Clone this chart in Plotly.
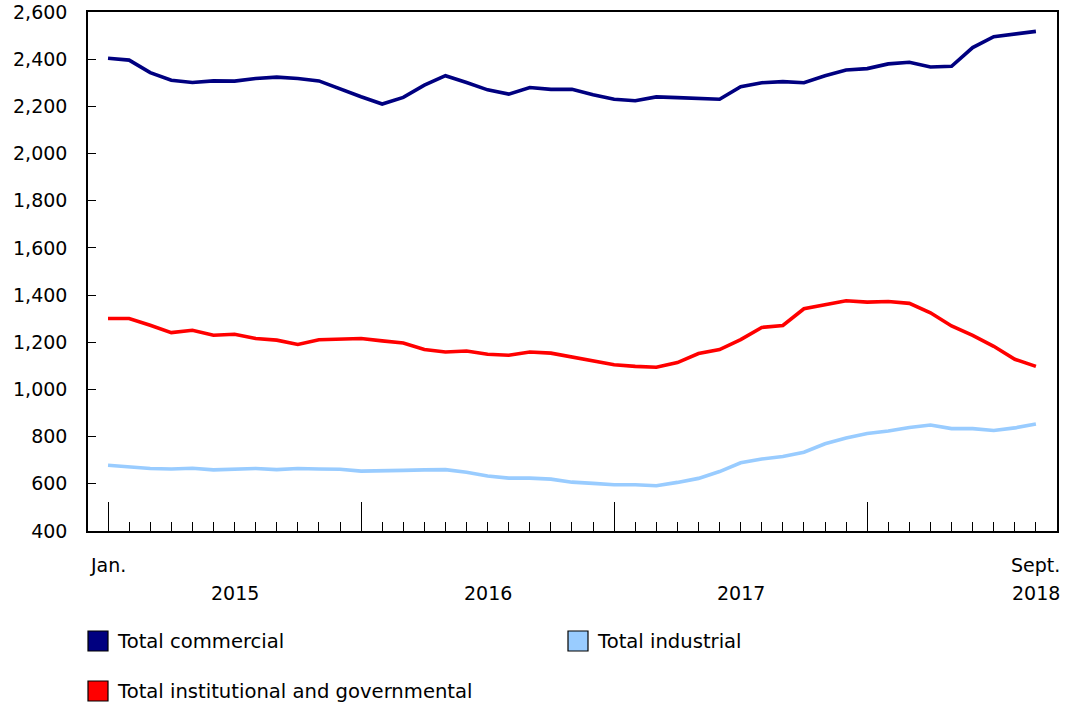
import plotly.graph_objects as go

# ---- data (monthly, Jan. 2015 to Sept. 2018) ----
series_names = ["Total commercial", "Total industrial", "Total institutional and governmental"]
series_colors = ["#000080", "#99CCFF", "#FF0000"]

commercial = [2404, 2396, 2343, 2311, 2301, 2308, 2307, 2318, 2324, 2318, 2308, 2273, 2241, 2210, 2238,
              2290, 2330, 2301, 2270, 2252, 2280, 2272, 2272, 2249, 2230, 2224, 2240, 2237, 2235, 2230,
              2283, 2300, 2305, 2300, 2330, 2354, 2360, 2380, 2387, 2367, 2370, 2449, 2495, 2507, 2518]
industrial = [679, 672, 665, 663, 666, 659, 662, 665, 660, 665, 663, 662, 654, 654, 657,
              659, 660, 649, 633, 624, 624, 620, 607, 602, 596, 596, 592, 606, 623, 652,
              689, 705, 716, 734, 770, 794, 813, 824, 839, 849, 834, 834, 826, 837, 854]
institutional = [1301, 1301, 1272, 1241, 1251, 1230, 1234, 1216, 1209, 1191, 1211, 1214, 1216, 1206, 1197,
                 1169, 1159, 1163, 1149, 1145, 1159, 1154, 1137, 1119, 1105, 1098, 1094, 1114, 1152, 1169,
                 1211, 1263, 1271, 1342, 1359, 1376, 1370, 1373, 1365, 1325, 1269, 1229, 1183, 1128, 1098]

years = ["2015", "2016", "2017", "2018"]
month_tick_labels = ["Jan.", "Sept."]
y_ticks = [400, 600, 800, 1000, 1200, 1400, 1600, 1800, 2000, 2200, 2400, 2600]

n = len(commercial)
x = list(range(n))  # month index, 0 = Jan. 2015

FONT = "Verdana, DejaVu Sans, sans-serif"
FS = 19

# plot area in pixels
W, H = 1067, 709
PL, PR, PT, PB = 88, 1057, 12, 531


def px2x(px):
    return (px - PL) / (PR - PL)


def py2y(py):
    return (PB - py) / (PB - PT)


fig = go.Figure()
for name, color, vals in zip(series_names, series_colors, [commercial, industrial, institutional]):
    fig.add_trace(go.Scatter(x=x, y=vals, mode="lines", name=name,
                             line=dict(color=color, width=3.6), showlegend=False))

# x-axis labels (month / year text)
annotations = []
annotations.append(dict(x=0, y=0, xref="x", yref="paper", text=month_tick_labels[0],
                        showarrow=False, yshift=-34, yanchor="middle", xanchor="center"))
annotations.append(dict(x=n - 1, y=0, xref="x", yref="paper", text=month_tick_labels[1],
                        showarrow=False, yshift=-34, yanchor="middle", xanchor="center"))
for k, yr in enumerate(years):
    xpos = 12 * k + 6 if k < len(years) - 1 else n - 1
    annotations.append(dict(x=xpos, y=0, xref="x", yref="paper", text=yr,
                            showarrow=False, yshift=-62, yanchor="middle", xanchor="center"))

# legend (swatches + labels)
shapes = []
legend_pos = [(88, 641), (568, 641), (88, 691)]
for name, color, (lx, ly) in zip(series_names, series_colors, legend_pos):
    shapes.append(dict(type="rect", xref="paper", yref="paper",
                       x0=px2x(lx), x1=px2x(lx + 20), y0=py2y(ly + 10), y1=py2y(ly - 10),
                       fillcolor=color, line=dict(color="black", width=1.2)))
    annotations.append(dict(x=px2x(lx + 27), y=py2y(ly), xref="paper", yref="paper", text=name,
                            showarrow=False, xanchor="left", yanchor="middle",
                            font=dict(size=19.6)))

fig.update_layout(
    width=W, height=H,
    margin=dict(l=PL, r=W - PR, t=PT, b=H - PB, pad=0, autoexpand=False),
    paper_bgcolor="white", plot_bgcolor="white",
    font=dict(family=FONT, size=FS, color="black"),
    showlegend=False,
    annotations=annotations,
    shapes=shapes,
    xaxis=dict(range=[-0.95, 45.0], showgrid=False, zeroline=False, automargin=False,
               showline=True, linecolor="black", linewidth=2, mirror=True,
               tickmode="array", tickvals=[0, 12, 24, 36], ticks="inside", ticklen=29,
               tickwidth=1, tickcolor="black", showticklabels=False,
               minor=dict(tickmode="array", tickvals=x, ticks="inside", ticklen=9,
                          tickwidth=1, tickcolor="black", showgrid=False)),
    yaxis=dict(range=[400, 2600], showgrid=False, zeroline=False, automargin=False,
               showline=True, linecolor="black", linewidth=1.5, mirror=True,
               tickmode="array", tickvals=y_ticks, tickformat=",",
               ticks="inside", ticklen=8, tickwidth=1, tickcolor="black",
               ticklabelstandoff=15, tickfont=dict(size=FS)),
)

fig.write_html("out.html", config={"displayModeBar": False},
               post_script="document.body.style.margin='0';")
